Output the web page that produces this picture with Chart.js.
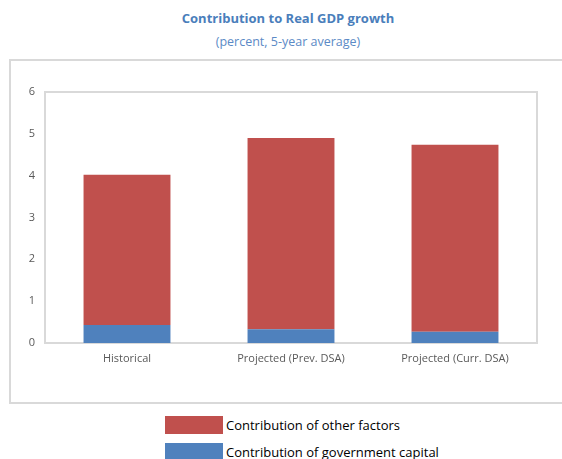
<!DOCTYPE html>
<html>
<head>
<meta charset="utf-8">
<script src="https://cdn.jsdelivr.net/npm/chart.js@4/dist/chart.umd.min.js"></script>
<style>
  html, body { margin: 0; padding: 0; background: #fff; }
  #wrap { position: relative; width: 562px; height: 459px; overflow: hidden; font-family: 'Open Sans', 'Noto Sans', sans-serif; }
  .title { position: absolute; left: 0; width: 576px; text-align: center; color: #4a7ebb; }
  #t1 { top: 9px; font-size: 13px; font-weight: 700; }
  #t2 { top: 33px; font-size: 12.5px; color: #5b8ac6; }
  #box { position: absolute; left: 9px; top: 59px; width: 600px; height: 341px;
         border-top: 2px solid #d9d9d9; border-left: 2px solid #d9d9d9; border-bottom: 2px solid #d9d9d9; }
  #plot { position: absolute; left: 11px; top: 61px; width: 551px; height: 340px; }
  #legend { position: absolute; left: 165px; top: 416px; font-size: 13px; color: #000; }
  .item { display: flex; align-items: center; height: 18px; margin-bottom: 9px; }
  .sw { width: 58px; height: 18px; margin-right: 3px; }
</style>
</head>
<body>
<div id="wrap">
  <div class="title" id="t1">Contribution to Real GDP growth</div>
  <div class="title" id="t2">(percent, 5-year average)</div>
  <div id="box"></div>
  <div id="plot"><canvas id="chart"></canvas></div>
  <div id="legend"></div>
</div>
<script>
  // ---- Data ------------------------------------------------
  const CATEGORIES = ['Historical', 'Projected (Prev. DSA)', 'Projected (Curr. DSA)'];
  const GOV_CAPITAL = [0.43, 0.33, 0.27];
  const OTHER_FACTORS = [3.59, 4.57, 4.47];
  const Y_TICKS = [0, 1, 2, 3, 4, 5, 6];

  const RED  = '#c0504d';
  const BLUE = '#4f81bd';
  const FRAME = '#d9d9d9';

  // legend (stacked vertically, other factors first)
  const legendItems = [
    { label: 'Contribution of other factors', color: RED },
    { label: 'Contribution of government capital', color: BLUE }
  ];
  document.getElementById('legend').innerHTML = legendItems.map(it =>
    '<div class="item"><span class="sw" style="background:' + it.color + '"></span>' + it.label + '</div>'
  ).join('');

  // frame around the plot area
  const frame = {
    id: 'frame',
    beforeDatasetsDraw(chart) {
      const a = chart.chartArea, c = chart.ctx;
      c.save();
      c.strokeStyle = FRAME;
      c.lineWidth = 2;
      c.strokeRect(a.left, a.top, a.right - a.left, a.bottom - a.top);
      c.restore();
    }
  };

  new Chart(document.getElementById('chart'), {
    type: 'bar',
    data: {
      labels: CATEGORIES,
      datasets: [
        { label: 'Contribution of government capital', data: GOV_CAPITAL, backgroundColor: BLUE,
          categoryPercentage: 1, barPercentage: 0.53 },
        { label: 'Contribution of other factors', data: OTHER_FACTORS, backgroundColor: RED,
          categoryPercentage: 1, barPercentage: 0.53 }
      ]
    },
    options: {
      responsive: true,
      maintainAspectRatio: false,
      animation: false,
      layout: { padding: { top: 31, right: 25, bottom: 0, left: 0 } },
      plugins: { legend: { display: false }, tooltip: { enabled: false } },
      scales: {
        x: {
          stacked: true,
          grid: { display: false },
          border: { display: false },
          ticks: { color: '#595959', font: { family: "'Open Sans', sans-serif", size: 11 }, padding: 1, maxRotation: 0 },
          afterFit(s) { s.height = 58; }
        },
        y: {
          stacked: true,
          min: 0, max: 6,
          grid: { display: false },
          border: { display: false },
          afterBuildTicks(s) { s.ticks = Y_TICKS.map(v => ({ value: v })); },
          ticks: { color: '#595959', font: { family: "'Open Sans', sans-serif", size: 11 }, padding: 2 },
          afterFit(s) { s.width = 34; }
        }
      }
    },
    plugins: [frame]
  });
</script>
</body>
</html>
